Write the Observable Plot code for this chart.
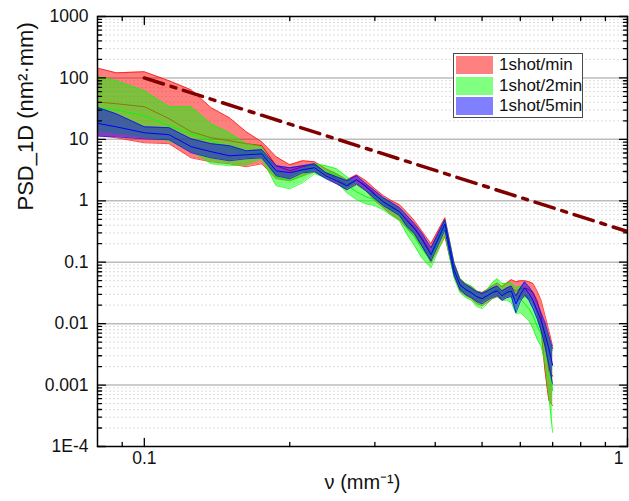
<!DOCTYPE html>
<html><head><meta charset="utf-8">
<script src="https://cdn.jsdelivr.net/npm/d3@7"></script>
<script src="https://cdn.jsdelivr.net/npm/@observablehq/plot@0.6"></script>
<style>
body{margin:0;background:#fff;}
#wrap{position:relative;width:629px;height:501px;font-family:"Liberation Sans",Arial,sans-serif;}
.legend{position:absolute;left:453px;top:53px;width:130px;height:65px;box-sizing:border-box;border:1px solid #4a4a4a;background:#fff;}
.row{position:absolute;left:2px;height:18px;display:flex;align-items:center;white-space:nowrap;}
.sw{width:37px;height:18px;margin-right:6px;flex:none;}
.lab{font-size:17px;color:#111;line-height:18px;}
</style></head><body><div id="wrap"></div>
<script>
// spatial frequency (mm^-1)
const freq = [0.075, 0.0875, 0.1, 0.1125, 0.125, 0.1375, 0.15, 0.1625, 0.175, 0.1875, 0.2, 0.2125, 0.225, 0.2375, 0.25, 0.2625, 0.275, 0.2875, 0.3, 0.3125, 0.325, 0.3375, 0.35, 0.3625, 0.375, 0.392, 0.419, 0.4375, 0.45, 0.4625, 0.475, 0.4875, 0.5, 0.5125, 0.525, 0.5375, 0.55, 0.5625, 0.575, 0.5875, 0.6, 0.6125, 0.625, 0.6375, 0.65, 0.6625, 0.675, 0.6875, 0.7];

// 1shot/min
const redHi = [164, 121, 126, 90, 64, 32.7, 22.5, 13.3, 9.1, 5.2, 3.86, 4.48, 4.32, 3.32, 2.75, 2.2, 2.65, 2.12, 1.57, 1.21, 1.0, 0.86, 0.64, 0.47, 0.325, 0.2, 0.53, 0.098, 0.054, 0.045, 0.04, 0.034, 0.032, 0.036, 0.041, 0.046, 0.04, 0.046, 0.052, 0.048, 0.05, 0.05, 0.048, 0.045, 0.034, 0.024, 0.0135, 0.0077, 0.0043];
const redMid = [42.5, 38, 34, 21.7, 13.3, 10.6, 9.5, 8.5, 7.9, 3.72, 3.08, 3.58, 3.86, 2.86, 2.28, 1.82, 2.2, 1.75, 1.3, 0.96, 0.77, 0.66, 0.49, 0.363, 0.25, 0.142, 0.406, 0.078, 0.043, 0.036, 0.032, 0.0275, 0.0255, 0.0285, 0.032, 0.036, 0.031, 0.034, 0.038, 0.034, 0.037, 0.038, 0.036, 0.032, 0.024, 0.0135, 0.0052, 0.0017, 0.0014];
const redLo = [12.3, 10.6, 8.8, 8.5, 5.0, 4.3, 4.0, 3.58, 4.0, 2.28, 2.12, 2.55, 2.97, 2.37, 1.89, 1.51, 1.82, 1.45, 1.0, 0.77, 0.59, 0.49, 0.35, 0.26, 0.185, 0.098, 0.26, 0.06, 0.034, 0.0285, 0.0255, 0.021, 0.0197, 0.022, 0.0255, 0.0275, 0.024, 0.0265, 0.0285, 0.024, 0.0255, 0.0275, 0.0255, 0.022, 0.015, 0.0077, 0.0017, 0.00056, 0.00046];

// 1shot/2min
const greenHi = [117, 90, 62, 34, 34, 17.9, 12.8, 8.5, 7.6, 3.08, 2.55, 3.32, 4.0, 3.72, 3.32, 2.46, 1.89, 1.45, 1.25, 1.08, 0.89, 0.71, 0.47, 0.35, 0.224, 0.142, 0.49, 0.098, 0.054, 0.045, 0.041, 0.034, 0.031, 0.036, 0.046, 0.054, 0.045, 0.045, 0.046, 0.038, 0.041, 0.034, 0.0285, 0.021, 0.015, 0.0112, 0.0083, 0.0056, 0.0036];
const greenMid = [35, 30, 24, 16.7, 12.3, 9.5, 7.3, 6.05, 6.05, 2.46, 2.12, 2.55, 3.45, 2.97, 2.65, 1.82, 1.4, 1.16, 1.04, 0.89, 0.71, 0.59, 0.363, 0.26, 0.166, 0.105, 0.39, 0.0725, 0.041, 0.034, 0.031, 0.0265, 0.024, 0.0275, 0.034, 0.037, 0.031, 0.032, 0.032, 0.024, 0.0255, 0.021, 0.0176, 0.0135, 0.0092, 0.0068, 0.0043, 0.0021, 0.00081];
const greenLo = [14.3, 12.8, 11.0, 9.5, 6.5, 4.0, 3.72, 3.86, 4.83, 1.75, 1.57, 1.96, 2.75, 2.37, 2.04, 1.35, 1.04, 0.89, 0.83, 0.71, 0.57, 0.47, 0.28, 0.185, 0.118, 0.081, 0.28, 0.056, 0.032, 0.0265, 0.024, 0.019, 0.0176, 0.021, 0.0255, 0.0275, 0.024, 0.024, 0.022, 0.0146, 0.015, 0.013, 0.0112, 0.0083, 0.0056, 0.0043, 0.0023, 0.00067, 0.00017];

// 1shot/5min
const blueHi = [39.5, 26, 16, 15.5, 10.2, 8.5, 7.9, 6.5, 6.8, 3.72, 3.45, 3.72, 4.0, 2.86, 2.46, 2.12, 2.55, 1.89, 1.45, 1.12, 0.93, 0.77, 0.57, 0.42, 0.3, 0.172, 0.49, 0.094, 0.052, 0.043, 0.038, 0.033, 0.031, 0.034, 0.038, 0.041, 0.034, 0.038, 0.041, 0.0285, 0.038, 0.048, 0.04, 0.032, 0.022, 0.015, 0.0104, 0.0063, 0.0039];
const blueMid = [20, 16, 12.8, 11.9, 7.6, 6.3, 5.4, 5.6, 5.8, 3.08, 2.86, 3.2, 3.45, 2.55, 2.12, 1.75, 2.2, 1.69, 1.25, 0.96, 0.8, 0.66, 0.47, 0.35, 0.241, 0.132, 0.42, 0.075, 0.043, 0.036, 0.032, 0.0275, 0.0255, 0.0285, 0.032, 0.034, 0.0285, 0.032, 0.034, 0.021, 0.0296, 0.038, 0.031, 0.024, 0.0163, 0.0112, 0.0068, 0.0039, 0.0021];
const blueLo = [11.4, 11.0, 10.2, 9.85, 6.05, 5.0, 4.48, 4.83, 5.0, 2.55, 2.28, 2.86, 2.97, 2.28, 1.89, 1.51, 1.89, 1.45, 1.08, 0.83, 0.69, 0.57, 0.377, 0.29, 0.185, 0.105, 0.337, 0.0624, 0.036, 0.0296, 0.0265, 0.0228, 0.021, 0.024, 0.0265, 0.0285, 0.024, 0.0265, 0.0275, 0.015, 0.0228, 0.0296, 0.024, 0.0176, 0.0121, 0.0077, 0.0043, 0.0021, 0.00104];

// reference power law (dash-dot)
const refF = [0.1, 1];
const refV = [100, 0.316];

const seriesNames = ["1shot/min", "1shot/2min", "1shot/5min"];
const seriesColors = ["#ff0000", "#00ff00", "#0000ff"];
const swatchColors = ["#ff8080", "#80ff80", "#8080ff"];

const yMajor = [1e-4, 1e-3, 0.01, 0.1, 1, 10, 100, 1000];
const yLabels = ["1E-4", "0.001", "0.01", "0.1", "1", "10", "100", "1000"];
const xMajor = [0.1, 1];
const xLabels = ["0.1", "1"];
const xMinor = [0.09, 0.2, 0.3, 0.4, 0.5, 0.6, 0.7, 0.8, 0.9];
const yMinor = [];
for (let e = -4; e <= 2; e++) for (let k = 2; k <= 9; k++) yMinor.push(+(k * Math.pow(10, e)).toPrecision(3));

const table = (lo, mid, hi) => freq.map((f, i) => ({f, lo: lo[i], mid: mid[i], hi: hi[i]}));
const bands = [table(redLo, redMid, redHi), table(greenLo, greenMid, greenHi), table(blueLo, blueMid, blueHi)];
const refLine = refF.map((f, i) => ({f, v: refV[i]}));

const tickShape = {draw(ctx, l) { ctx.moveTo(0, 0); ctx.lineTo(0, -l); }};

const bandMarks = [];
bands.forEach((rows, s) => {
  const c = seriesColors[s];
  bandMarks.push(Plot.areaY(rows, {x: "f", y1: "lo", y2: "hi", fill: c, fillOpacity: 0.5, clip: true}));
  bandMarks.push(Plot.lineY(rows, {x: "f", y: "lo", stroke: c, strokeWidth: 0.7, clip: true}));
  bandMarks.push(Plot.lineY(rows, {x: "f", y: "hi", stroke: c, strokeWidth: 0.7, clip: true}));
  bandMarks.push(Plot.lineY(rows, {x: "f", y: "mid", stroke: c, strokeWidth: 1, clip: true}));
});

const tickMarks = (vals, anchor, len, isY) => Plot.vector(vals, {
  [isY ? "y" : "x"]: d => d,
  frameAnchor: anchor,
  rotate: {left: 90, right: -90, top: 180, bottom: 0}[anchor],
  length: len, anchor: "start", shape: tickShape, stroke: "black", strokeWidth: 1.3
});

const chart = Plot.plot({
  width: 629, height: 501,
  marginLeft: 97, marginRight: 2, marginTop: 16, marginBottom: 55,
  x: {type: "log", domain: [0.08, 1], axis: null},
  y: {type: "log", domain: [1e-4, 1000], axis: null},
  style: {fontFamily: "'Liberation Sans', Arial, sans-serif", fontSize: "17.5px", background: "white", color: "#111"},
  marks: [
    Plot.ruleY(yMinor, {y: d => d, stroke: "#dedede", strokeWidth: 1, strokeDasharray: "2,2"}),
    Plot.ruleY(yMajor.slice(1, -1), {y: d => d, stroke: "#bcbcbc", strokeWidth: 1.5}),
    ...bandMarks,
    Plot.line(refLine, {x: "f", y: "v", stroke: "#800000", strokeWidth: 3.5, strokeDasharray: "20,8,5,8", clip: true}),
    Plot.frame({stroke: "black", strokeWidth: 1.5}),
    tickMarks(yMajor, "left", 8, true), tickMarks(yMinor, "left", 4, true),
    tickMarks(yMajor, "right", 8, true), tickMarks(yMinor, "right", 4, true),
    tickMarks(xMajor, "bottom", 8, false), tickMarks(xMinor, "bottom", 4, false),
    tickMarks(xMajor, "top", 8, false), tickMarks(xMinor, "top", 4, false),
    Plot.text(yMajor, {y: d => d, text: (d, i) => yLabels[i], frameAnchor: "left", dx: -9, textAnchor: "end", fontSize: 17.5, fill: "#111"}),
    Plot.text([xMajor[0]], {x: d => d, text: [xLabels[0]], frameAnchor: "bottom", dy: 17, fontSize: 17.5, fill: "#111"}),
    Plot.text([xMajor[1]], {x: d => d, text: [xLabels[1]], frameAnchor: "bottom", dy: 17, dx: -4, textAnchor: "end", fontSize: 17.5, fill: "#111"}),
    Plot.text(["ν (mm⁻¹)"], {frameAnchor: "bottom", dy: 42, fontSize: 20, fill: "#111"}),
    Plot.text(["PSD_1D (nm²·mm)"], {frameAnchor: "left", dx: -72, dy: -21, rotate: -90, fontSize: 22, fill: "#111"})
  ]
});

const wrap = document.getElementById("wrap");
wrap.appendChild(chart);
const leg = document.createElement("div");
leg.className = "legend";
const rowTops = [2, 23, 43];
seriesNames.forEach((name, i) => {
  const r = document.createElement("div");
  r.className = "row";
  r.style.top = rowTops[i] + "px";
  const sw = document.createElement("div");
  sw.className = "sw";
  sw.style.background = swatchColors[i];
  const lab = document.createElement("span");
  lab.className = "lab";
  lab.textContent = name;
  r.appendChild(sw); r.appendChild(lab);
  leg.appendChild(r);
});
wrap.appendChild(leg);
</script>
</body></html>
